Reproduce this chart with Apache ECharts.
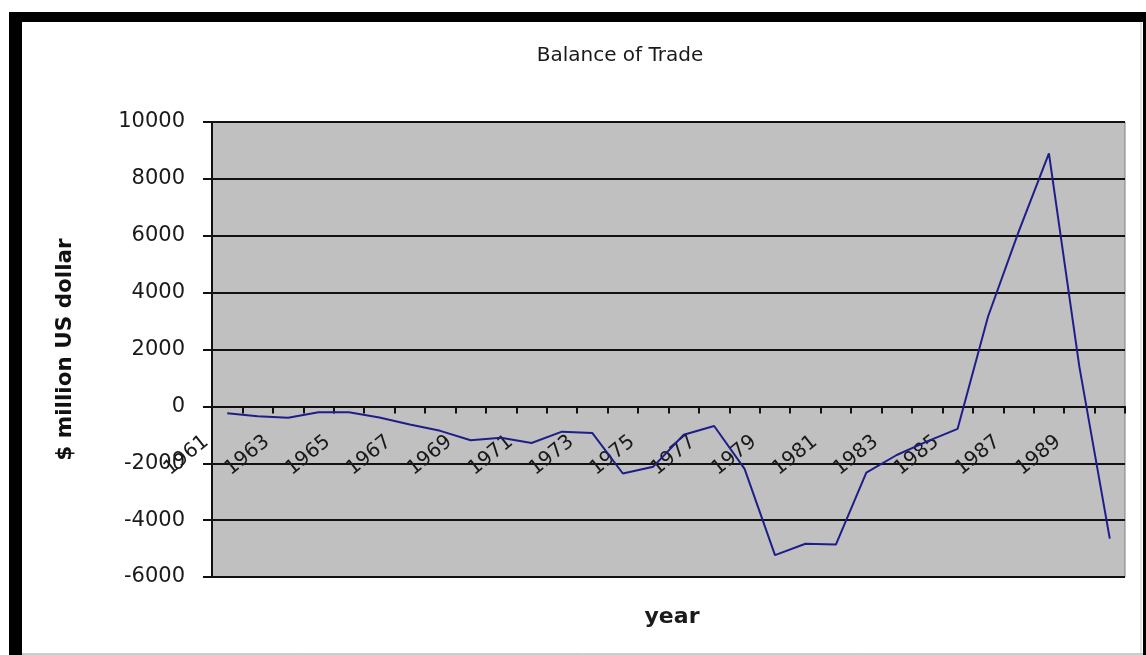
<!DOCTYPE html>
<html>
<head>
<meta charset="utf-8">
<title>Balance of Trade</title>
<script src="https://cdn.jsdelivr.net/npm/echarts@6/dist/echarts.min.js"></script>
<style>
  html, body { margin: 0; padding: 0; background: #ffffff; }
  #chart { width: 1146px; height: 655px; }
</style>
</head>
<body>
<div id="chart"></div>
<script>
// Yearly balance of trade, million US dollars
const years = ['1961','1962','1963','1964','1965','1966','1967','1968','1969','1970',
               '1971','1972','1973','1974','1975','1976','1977','1978','1979','1980',
               '1981','1982','1983','1984','1985','1986','1987','1988','1989','1990'];
const balance = [-240, -350, -400, -210, -210, -390, -640, -860, -1190, -1100,
                 -1290, -890, -940, -2360, -2120, -1000, -690, -2200, -5230, -4830,
                 -4860, -2330, -1710, -1230, -790, 3160, 6130, 8900, 1400, -4650];
const yTicks = { min: -6000, max: 10000, step: 2000 };

const GRID = { left: 212, top: 122, width: 913, height: 455 };
// the category axis crosses the value axis at zero, so shift it up from the grid bottom
const zeroOffset = -GRID.height * (0 - yTicks.min) / (yTicks.max - yTicks.min);

const chart = echarts.init(document.getElementById('chart'), null, { renderer: 'canvas' });

const labelFont = "'DejaVu Sans', 'Liberation Sans', sans-serif";

chart.setOption({
  animation: false,
  backgroundColor: '#ffffff',
  title: [
    {
      text: 'Balance of Trade',
      left: 615, top: 41, textAlign: 'center',
      textStyle: { fontFamily: labelFont, fontSize: 20, fontWeight: 'normal', color: '#1a1a1a' }
    },
    {
      text: 'year',
      left: 667, top: 601, textAlign: 'center',
      textStyle: { fontFamily: labelFont, fontSize: 22, fontWeight: 'bold', color: '#1a1a1a' }
    }
  ],
  graphic: [
    // outer frame
    { type: 'rect', shape: { x: 9, y: 12, width: 13, height: 643 }, style: { fill: '#000' }, silent: true },
    { type: 'rect', shape: { x: 9, y: 12, width: 1137, height: 10 }, style: { fill: '#000' }, silent: true },
    { type: 'rect', shape: { x: 1143, y: 12, width: 3, height: 643 }, style: { fill: '#000' }, silent: true },
    { type: 'line', shape: { x1: 22, y1: 654, x2: 1143, y2: 654 }, style: { stroke: '#9a9a9a', lineWidth: 1 }, silent: true },
    { type: 'line', shape: { x1: 1141, y1: 22, x2: 1141, y2: 655 }, style: { stroke: '#c8c8c8', lineWidth: 1 }, silent: true }
  ],
  grid: {
    left: GRID.left, top: GRID.top, width: GRID.width, height: GRID.height,
    show: true,
    backgroundColor: '#c0c0c0',
    borderColor: '#808080',
    borderWidth: 1
  },
  xAxis: {
    type: 'category',
    data: years,
    position: 'bottom',
    offset: zeroOffset,
    boundaryGap: true,
    axisLine: { show: true, onZero: false, lineStyle: { color: '#111', width: 2 } },
    axisTick: { show: true, inside: false, length: 7, interval: 0, lineStyle: { color: '#111', width: 2 } },
    axisLabel: {
      interval: 1,
      rotate: 39,
      margin: 16,
      padding: [0, 27, 0, 0],
      fontFamily: labelFont,
      fontSize: 20,
      color: '#1a1a1a'
    },
    splitLine: { show: false }
  },
  yAxis: {
    type: 'value',
    min: yTicks.min,
    max: yTicks.max,
    interval: yTicks.step,
    name: '$ million US dollar',
    nameLocation: 'middle',
    nameRotate: 90,
    nameGap: 136,
    nameTextStyle: {
      fontFamily: labelFont,
      fontSize: 21.5,
      fontWeight: 'bold',
      color: '#111'
    },
    axisLine: { show: true, lineStyle: { color: '#111', width: 2 } },
    axisTick: { show: true, inside: false, length: 9, lineStyle: { color: '#111', width: 2 } },
    axisLabel: {
      margin: 27,
      fontFamily: labelFont,
      fontSize: 21,
      color: '#1a1a1a',
      formatter: function (v) { return String(v); }
    },
    splitLine: { show: true, lineStyle: { color: '#111', width: 2 } }
  },
  series: [{
    type: 'line',
    data: balance,
    symbol: 'none',
    smooth: false,
    lineStyle: { color: '#1e1e8a', width: 2 }
  }]
});
</script>
</body>
</html>
